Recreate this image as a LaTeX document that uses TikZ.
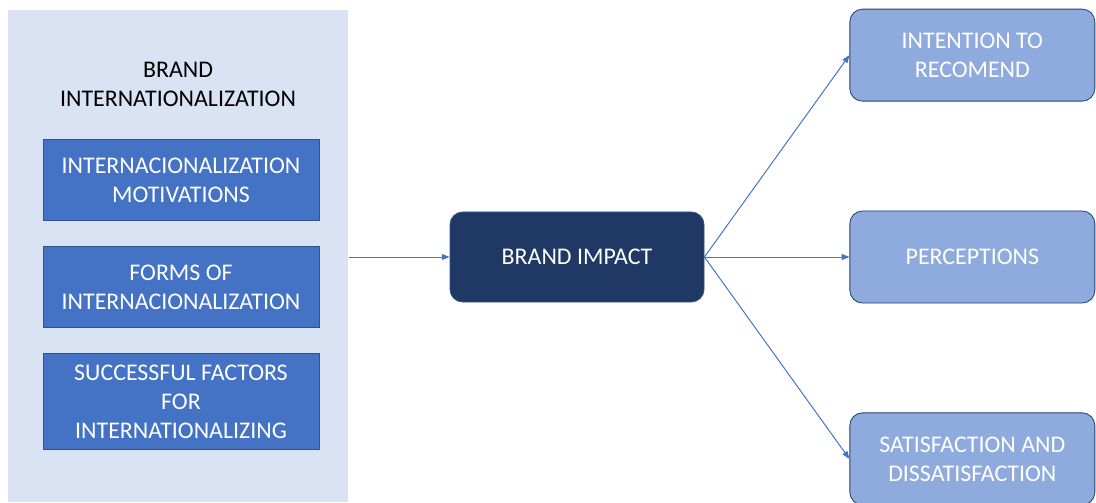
\documentclass[tikz,border=0pt]{standalone}
\usepackage{fontspec}
\setmainfont{Carlito}
\usetikzlibrary{arrows.meta,positioning}
\definecolor{panelblue}{HTML}{DAE3F3}
\definecolor{midblue}{HTML}{4472C4}
\definecolor{navyblue}{HTML}{203864}
\definecolor{softblue}{HTML}{8FAADC}
\definecolor{edgeblue}{HTML}{2F528F}
\tikzset{
    factorbox/.style={draw=edgeblue, line width=0.6pt, fill=midblue, text=white,
        align=center, minimum width=6.9cm, font=\fontsize{17}{20.6}\selectfont},
    impactbox/.style={draw=edgeblue, line width=0.6pt, fill=navyblue, text=white,
        rounded corners=9pt, align=center, minimum width=6.35cm, minimum height=2.25cm,
        font=\fontsize{17}{20.6}\selectfont},
    outcomebox/.style={draw=edgeblue!80!black, line width=0.6pt, fill=softblue, text=white,
        rounded corners=9pt, align=center, minimum width=6.125cm, minimum height=2.3cm,
        font=\fontsize{17}{20.6}\selectfont},
    linkarrow/.style={-{Triangle[length=5.5pt,width=4.2pt]}, draw=midblue, line width=0.7pt}
}
\begin{document}
\begin{tikzpicture}
\useasboundingbox (0,0) rectangle (27.4,12.55);
% left panel with the three factors
\node[fill=panelblue, minimum width=8.5cm, minimum height=12.3cm, inner sep=0pt,
    anchor=south west] (panel) at (0.2,0) {};
\node[align=center, font=\fontsize{17}{20.6}\selectfont] (title) at (4.45,10.45)
    {BRAND\\INTERNATIONALIZATION};
\node[factorbox, minimum height=2.025cm] (motiv) at (4.525,8.04)
    {INTERNACIONALIZATION\\MOTIVATIONS};
\node[factorbox, minimum height=2.025cm, below=0.625cm of motiv] (forms)
    {FORMS OF\\INTERNACIONALIZATION};
\node[factorbox, minimum height=2.4cm, below=0.625cm of forms] (success)
    {SUCCESSFUL FACTORS\\FOR\\INTERNATIONALIZING};
% centre and outcomes
\node[impactbox] (impact) at (14.425,6.125) {BRAND IMPACT};
\node[outcomebox, right=3.625cm of impact] (percep) {PERCEPTIONS};
\node[outcomebox, above=2.725cm of percep] (recom) {INTENTION TO\\RECOMEND};
\node[outcomebox, below=2.725cm of percep] (satis) {SATISFACTION AND\\DISSATISFACTION};
\draw[linkarrow] (panel.east |- impact.west) -- (impact.west);
\draw[linkarrow] (impact.east) -- (recom.west);
\draw[linkarrow] (impact.east) -- (percep.west);
\draw[linkarrow] (impact.east) -- (satis.west);
\end{tikzpicture}
\end{document}
